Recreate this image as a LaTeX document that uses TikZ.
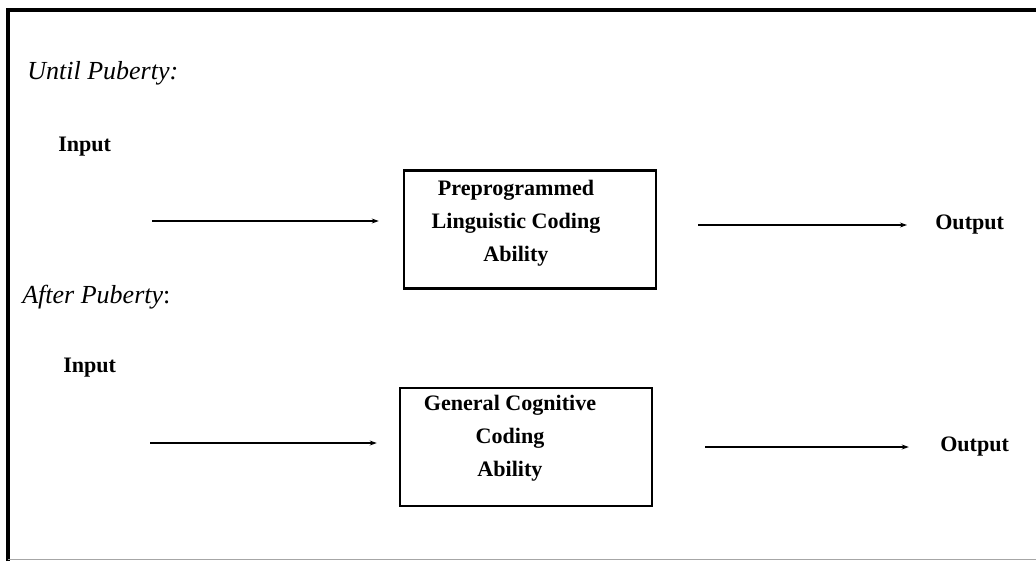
\documentclass[tikz,border=0pt]{standalone}
\usepackage{fontspec}
\setmainfont{Liberation Serif}
\usetikzlibrary{arrows.meta}

\begin{document}
\begin{tikzpicture}[x=0.025cm,y=-0.025cm]

        \useasboundingbox (0,0) rectangle (1036,561);

        % frame
        \draw[line width=2.4pt] (8,561) -- (8,10) -- (1036,10);
        \draw[black!35,line width=0.5pt] (8,559) -- (1036,559);

        \begin{scope}[every node/.style={anchor=west,inner sep=0pt,font=\fontsize{18.5}{22}\selectfont\itshape}]
          \node (until) at (27,73)  {Until Puberty:};
          \node (after) at (22,297) {After Puberty\/\upshape:};
        \end{scope}

        \begin{scope}[every node/.style={anchor=west,inner sep=0pt,font=\fontsize{15.7}{20}\selectfont\bfseries}]
          \node (inA)  at (58,147)  {Input};
          \node (inB)  at (63,368)  {Input};
          \node (outA) at (935,225) {Output};
          \node (outB) at (940,447) {Output};
        \end{scope}

        \begin{scope}[every node/.style={draw,line width=1.7pt,minimum width=6.3cm,minimum height=2.95cm},
                      every label/.style={draw=none,align=center,font=\fontsize{15.7}{23.5}\selectfont\bfseries}]
          \node[label={[xshift=-0.35cm,yshift=0.16cm]center:Preprogrammed\\Linguistic Coding\\Ability}]
            (codeA) at (530,229.5) {};
          \node[label={[xshift=-0.4cm,yshift=0.21cm]center:General Cognitive\\Coding\\Ability}]
            (codeB) at (526,447) {};
        \end{scope}

        \coordinate (srcA) at (152,221);
        \coordinate (srcB) at (150,443);

        \begin{scope}[every path/.style={line width=1.5pt,-{Stealth[length=5pt,width=3.5pt]}}]
          \path (srcA) edge[shorten >=0.6cm] (srcA -| codeA.west);
          \path (srcB) edge[shorten >=0.55cm] (srcB -| codeB.west);
          \path (outA.west -| codeA.east) edge[shorten <=1.02cm,shorten >=0.7cm] (outA.west);
          \path (outB.west -| codeB.east) edge[shorten <=1.3cm,shorten >=0.78cm] (outB.west);
        \end{scope}

      \end{tikzpicture}
\end{document}
